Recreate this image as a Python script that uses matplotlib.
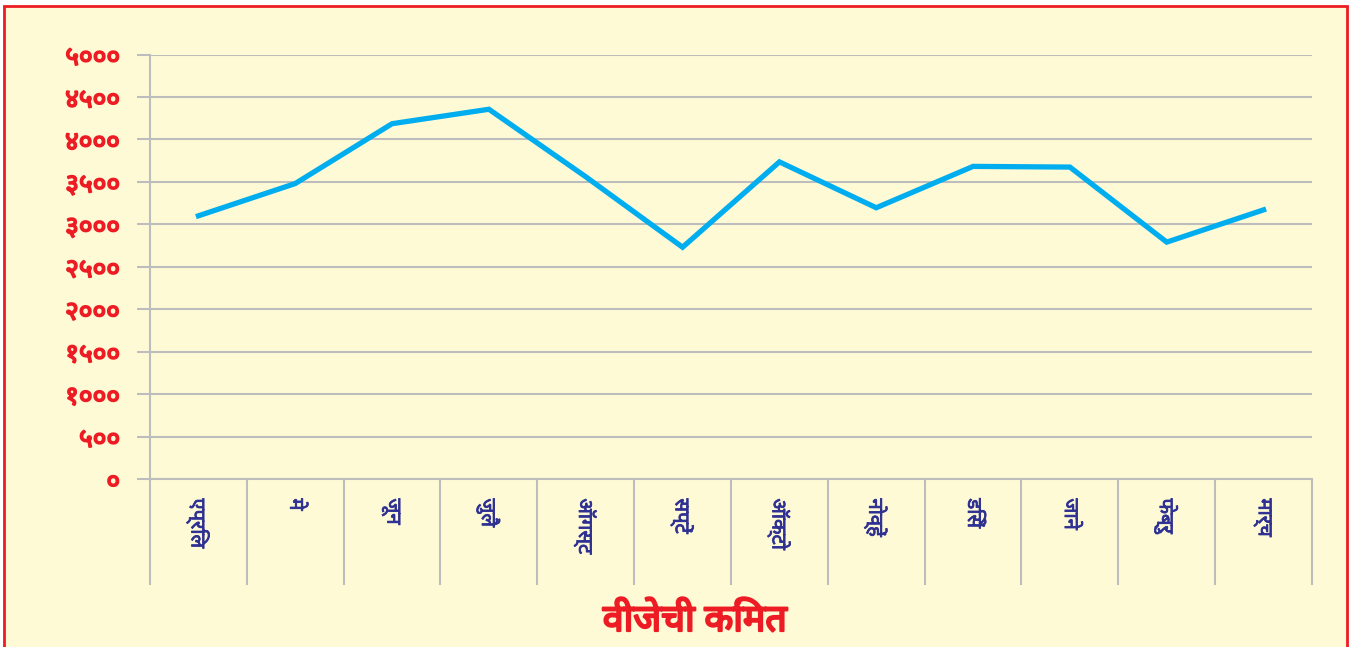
import matplotlib
matplotlib.use("Agg")
import matplotlib.pyplot as plt
import matplotlib.patheffects as pe
from matplotlib.patches import Rectangle
from matplotlib.ticker import FixedLocator

# --- Data ---
months = ["एप्रिल", "मे", "जून", "जुलै", "ऑगस्ट", "सप्टें",
          "ऑक्टो", "नोव्हें", "डिसें", "जाने", "फेब्रु", "मार्च"]
prices = [3100, 3480, 4185, 4355, 3560, 2730, 3735, 3195, 3682, 3674, 2790, 3170]
y_ticks = [0, 500, 1000, 1500, 2000, 2500, 3000, 3500, 4000, 4500, 5000]
y_labels = ["०", "५००", "१०००", "१५००", "२०००", "२५००",
            "३०००", "३५००", "४०००", "४५००", "५०००"]
title = "वीजेची किंमत"

BG = "#FFFAD6"
GRID = "#BDBDBD"
RED = "#ED1C24"
BLUE = "#2E3192"
LINE = "#00AEEF"

plt.rcParams['font.family'] = ['Noto Sans', 'DejaVu Sans']

fig = plt.figure(figsize=(13.65, 6.47), dpi=100)
fig.patch.set_facecolor("white")

# red frame (bottom edge runs off the picture)
fig.patches.append(Rectangle((4 / 1365, -0.05), 1343 / 1365, 1.05 - 6 / 647,
                             transform=fig.transFigure, facecolor=BG,
                             edgecolor=RED, linewidth=2, zorder=-5))

ax = fig.add_axes([150 / 1365, 1 - 479 / 647, 1162 / 1365, 424.5 / 647])
ax.set_facecolor("none")

x = list(range(len(months)))
ax.plot(x, prices, color=LINE, linewidth=3.8, solid_joinstyle="miter", zorder=3)

ax.set_xlim(-0.5, len(months) - 0.5)
ax.set_ylim(0, 5000)

# y axis
ax.set_yticks(y_ticks)
ax.set_yticklabels(y_labels, color=RED, fontsize=19)
for lab in ax.get_yticklabels():
    lab.set_path_effects([pe.withStroke(linewidth=1.2, foreground=RED)])
ax.tick_params(axis="y", length=9.5, width=1.5, color=GRID, pad=12)
ax.yaxis.grid(True, color=GRID, linewidth=1.5)
ax.set_axisbelow(True)

# x axis: labels at centres, long separators at boundaries
ax.set_xticks(x)
ax.set_xticklabels(months, rotation=-90, color=BLUE, fontsize=14.5,
                   va="top", ha="center")
for lab in ax.get_xticklabels():
    lab.set_path_effects([pe.withStroke(linewidth=0.6, foreground=BLUE)])
ax.tick_params(axis="x", which="major", length=0, pad=14)
ax.xaxis.set_minor_locator(FixedLocator([i - 0.5 for i in range(len(months) + 1)]))
ax.tick_params(axis="x", which="minor", length=76, width=1.5, color=GRID)

for side in ["top", "right"]:
    ax.spines[side].set_visible(False)
for side in ["left", "bottom"]:
    ax.spines[side].set_color(GRID)
    ax.spines[side].set_linewidth(1.5)

fig.text(695 / 1365, 1 - 621 / 647, title, color=RED, fontsize=27,
         ha="center", va="center",
         path_effects=[pe.withStroke(linewidth=1.6, foreground=RED)])

fig.savefig("out.png", dpi=100, facecolor=fig.get_facecolor())
